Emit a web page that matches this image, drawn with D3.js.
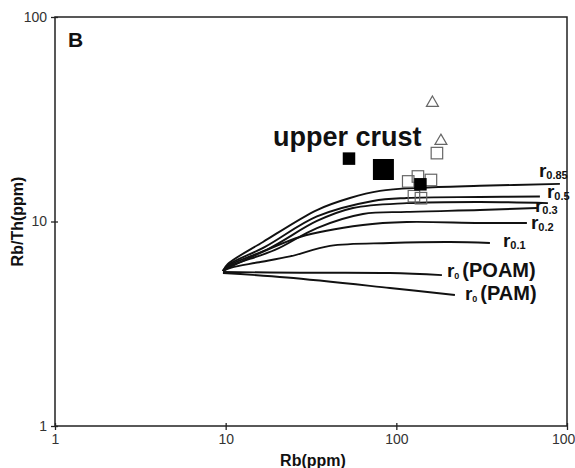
<!DOCTYPE html>
<html><head><meta charset="utf-8">
<script src="https://cdn.jsdelivr.net/npm/d3@7"></script>
<style>
html,body{margin:0;padding:0;background:#fff;}
svg{display:block;font-family:"Liberation Sans",Arial,Helvetica,sans-serif;}
</style></head><body>
<svg id="chart" width="575" height="468"></svg>
<script>
// ---------- data ----------
const xTickValues = [1, 10, 100, 1000];
const yTickValues = [1, 10, 100];
const xTitle = "Rb(ppm)";
const yTitle = "Rb/Th(ppm)";
const panelLetter = "B";
const crustText = "upper crust";

// mixing curves [Rb, Rb/Th]
const curve_r085 = [[9.64,5.73],[10.3,6.2],[16.54,7.94],[34.27,11.38],[53.48,13.03],[80.15,14.11],[137.5,14.62],[308.9,14.95],[908.6,15.27]];
const curve_r05  = [[9.64,5.73],[10.4,6.15],[17.0,7.51],[34.27,10.58],[72.94,12.6],[115.3,13.03],[308.9,13.18],[693.8,13.25]];
const curve_r03  = [[9.64,5.73],[10.5,6.1],[18.17,7.42],[34.27,10.06],[55.69,11.64],[115.3,12.3],[308.9,12.46],[773.0,12.3]];
const curve_r04  = [[9.64,5.73],[10.6,6.05],[19.45,7.26],[34.27,9.29],[63.72,10.88],[115.3,11.14],[308.9,11.38],[666.3,11.64]];
const curve_r02  = [[9.64,5.73],[10.7,6.0],[27.24,8.4],[63.72,9.61],[115.3,9.94],[308.9,9.83],[582.1,9.83]];
const curve_r01  = [[9.64,5.73],[10.8,5.95],[15.26,6.3],[23.81,6.75],[40.83,7.6],[91.73,7.85],[206.1,7.94],[353.5,7.85]];
const curve_POAM = [[9.64,5.66],[27.24,5.62],[91.73,5.6],[185.0,5.47]];
const curve_PAM  = [[9.64,5.6],[22.86,5.32],[91.73,4.73],[220.4,4.37]];

const curveList = [curve_r085, curve_r05, curve_r03, curve_r04, curve_r02, curve_r01, curve_POAM, curve_PAM];
const curveSubs  = ["0.85", "0.5", "0.3", null, "0.2", "0.1", "0", "0"];
const curveTails = ["", "", "", "", "", "", "(POAM)", "(PAM)"];

// samples
const openSquares = [[117.4,15.7],[133.8,16.6],[159.5,15.96],[126.8,13.3],[139.4,13.0],[172.9,21.6]];
const filledSquares = [[52.8,20.3],[84.0,17.96],[138.4,15.2]];
const filledKinds = ["small","large","small"];
const openTriangles = [[162.7,38.0],[182.5,24.75]];

// ---------- layout / style ----------
const M = {left:55, right:567, top:17, bottom:426};
const svg = d3.select("#chart");
const x = d3.scaleLog().domain([1,1000]).range([M.left, M.right]);
const y = d3.scaleLog().domain([1,100]).range([M.bottom, M.top]);

// frame
svg.append("rect").attr("x",M.left).attr("y",M.top)
  .attr("width",M.right-M.left).attr("height",M.bottom-M.top)
  .attr("fill","none").attr("stroke","#222").attr("stroke-width",1.5);

// axes (outer ticks with labels, plus short inner ticks)
const fmt = d3.format("d");
const xAxis = svg.append("g").attr("transform",`translate(0,${M.bottom})`)
  .call(d3.axisBottom(x).tickValues(xTickValues).tickFormat(fmt).tickSize(4).tickSizeOuter(0).tickPadding(4));
const xAxisIn = svg.append("g").attr("transform",`translate(0,${M.bottom})`)
  .call(d3.axisBottom(x).tickValues(xTickValues).tickFormat("").tickSize(-3).tickSizeOuter(0));
const yAxis = svg.append("g").attr("transform",`translate(${M.left},0)`)
  .call(d3.axisLeft(y).tickValues(yTickValues).tickFormat(fmt).tickSize(4).tickSizeOuter(0).tickPadding(4));
const yAxisIn = svg.append("g").attr("transform",`translate(${M.left},0)`)
  .call(d3.axisLeft(y).tickValues(yTickValues).tickFormat("").tickSize(-3).tickSizeOuter(0));
[xAxis,xAxisIn,yAxis,yAxisIn].forEach(a=>{
  a.select(".domain").remove();
  a.selectAll(".tick line").attr("stroke","#222").attr("stroke-width",1.3);
  a.selectAll("text").attr("font-size",14).attr("fill","#333")
   .attr("font-family","'Liberation Sans',Arial,sans-serif");
});

// axis titles
svg.append("text").attr("x",(M.left+M.right)/2+2).attr("y",466)
  .attr("text-anchor","middle").attr("font-weight","bold").attr("font-size",16)
  .attr("fill","#111").text(xTitle);
svg.append("text").attr("transform",`translate(23,${(M.top+M.bottom)/2}) rotate(-90)`)
  .attr("text-anchor","middle").attr("font-weight","bold").attr("font-size",16)
  .attr("fill","#111").text(yTitle);

// panel letter
svg.append("text").attr("x",M.left+13).attr("y",M.top+30)
  .attr("font-weight","bold").attr("font-size",21).attr("fill","#111").text(panelLetter);

// curves
const line = d3.line().x(d=>x(d[0])).y(d=>y(d[1])).curve(d3.curveCatmullRom.alpha(0.5));
svg.append("g").selectAll("path").data(curveList).join("path")
  .attr("d",line).attr("fill","none").attr("stroke","#111")
  .attr("stroke-width",1.9).attr("stroke-linejoin","round");

// curve labels (offsets from curve ends)
const labelOffsets = [[-21,-7],[7,1.5],[-13,9],null,[4,6],[13,4],[5,2],[10,5]];
curveList.forEach((c,i)=>{
  if(curveSubs[i]===null) return;
  const end = c[c.length-1];
  const off = labelOffsets[i];
  const t = svg.append("text").attr("x",x(end[0])+off[0]).attr("y",y(end[1])+off[1])
    .attr("font-weight","bold").attr("fill","#111");
  const isR0 = curveTails[i] !== "";
  t.append("tspan").attr("font-size",isR0?19:19).text("r");
  t.append("tspan").attr("font-size",isR0?9:11).attr("dy",2).text(curveSubs[i]);
  if(isR0) t.append("tspan").attr("font-size",20).attr("dy",-2).attr("dx",3).text(curveTails[i]);
});

// upper crust label
svg.append("text").attr("x",273).attr("y",146).attr("font-weight","bold")
  .attr("font-size",27).attr("fill","#111").text(crustText);

// open squares
const openSize = 11.5;
svg.append("g").selectAll("rect").data(openSquares).join("rect")
  .attr("x",d=>x(d[0])-openSize/2).attr("y",d=>y(d[1])-openSize/2)
  .attr("width",openSize).attr("height",openSize)
  .attr("fill","none").attr("stroke","#666").attr("stroke-width",1.2);

// filled squares
const filledSize = {small:12.5, large:21};
svg.append("g").selectAll("rect").data(filledSquares).join("rect")
  .attr("x",(d,i)=>x(d[0])-filledSize[filledKinds[i]]/2)
  .attr("y",(d,i)=>y(d[1])-filledSize[filledKinds[i]]/2)
  .attr("width",(d,i)=>filledSize[filledKinds[i]])
  .attr("height",(d,i)=>filledSize[filledKinds[i]])
  .attr("fill","#000");

// open triangles
const tri = d3.symbol().type(d3.symbolTriangle).size(62);
svg.append("g").selectAll("path").data(openTriangles).join("path")
  .attr("transform",d=>`translate(${x(d[0])},${y(d[1])})`)
  .attr("d",tri).attr("fill","none").attr("stroke","#666").attr("stroke-width",1.2);
</script>
</body></html>
